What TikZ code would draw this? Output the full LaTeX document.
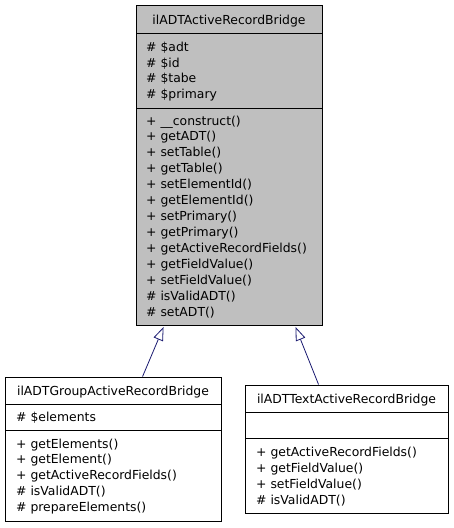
\documentclass[tikz,border=0pt]{standalone}
\usepackage{fontspec}
\setmainfont{DejaVu Sans}
\usetikzlibrary{arrows.meta}
\definecolor{boxgrey}{RGB}{191,191,191}
\definecolor{edgeblue}{RGB}{25,25,112}
\tikzset{
  cls/.style={draw=black, line width=0.9pt, rectangle, inner sep=0pt},
  sep/.style={draw=black, line width=0.9pt},
  lbl/.style={anchor=base west, inner sep=0pt, font=\fontsize{12.4}{14}\selectfont},
  ttl/.style={anchor=base, inner sep=0pt, font=\fontsize{12.4}{14}\selectfont},
  inh/.style={draw=edgeblue, line width=0.8pt, -{Triangle[open, length=13.5pt, width=10pt, fill=white]}}
}
\begin{document}
\begin{tikzpicture}[x=1pt,y=-1pt]
\useasboundingbox (0,0) rectangle (453,528);
% base class
\node[cls, fill=boxgrey, minimum width=186pt, minimum height=320pt] (base) at (229,165.5) {};
\draw[sep] (136,33) -- (322,33);
\draw[sep] (136,108) -- (322,108);
\node[ttl] (bt) at (229,24.5) {ilADTActiveRecordBridge};
\foreach \t [count=\i from 0] in {\# \$adt,\# \$id,\# \$tabe,\# \$primary}
  \node[lbl] (ba\i) at (146,{51.5+15.7*\i}) {\t};
\foreach \t [count=\i from 0] in {+ \_\_construct(),+ getADT(),+ setTable(),+ getTable(),+ setElementId(),+ getElementId(),+ setPrimary(),+ getPrimary(),+ getActiveRecordFields(),+ getFieldValue(),+ setFieldValue(),\# isValidADT(),\# setADT()}
  \node[lbl] (bm\i) at (146,{125+15.97*\i}) {\t};
% group bridge
\node[cls, fill=white, minimum width=216pt, minimum height=144pt] (gb) at (113,449) {};
\draw[sep] (5,404) -- (221,404);
\draw[sep] (5,430) -- (221,430);
\node[ttl] (gt) at (113,395) {ilADTGroupActiveRecordBridge};
\node[lbl] (ga0) at (16,421) {\# \$elements};
\foreach \t [count=\i from 0] in {+ getElements(),+ getElement(),+ getActiveRecordFields(),\# isValidADT(),\# prepareElements()}
  \node[lbl] (gm\i) at (16,{448+15.9*\i}) {\t};
% text bridge
\node[cls, fill=white, minimum width=203pt, minimum height=128pt] (tb) at (346.5,449) {};
\draw[sep] (245,412) -- (448,412);
\draw[sep] (245,438) -- (448,438);
\node[ttl] (tt) at (346.5,403.3) {ilADTTextActiveRecordBridge};
\foreach \t [count=\i from 0] in {+ getActiveRecordFields(),+ getFieldValue(),+ setFieldValue(),\# isValidADT()}
  \node[lbl] (tm\i) at (256,{456+16.1*\i}) {\t};
% inheritance
\path (gb.north west) ++(138,0) coordinate (gs);
\path (base.south west) ++(28,1) coordinate (ge);
\path (tb.north west) ++(74,0) coordinate (ts);
\path (base.south west) ++(160,1) coordinate (te);
\draw[inh] (gs) -- (ge);
\draw[inh] (ts) -- (te);
\end{tikzpicture}
\end{document}
